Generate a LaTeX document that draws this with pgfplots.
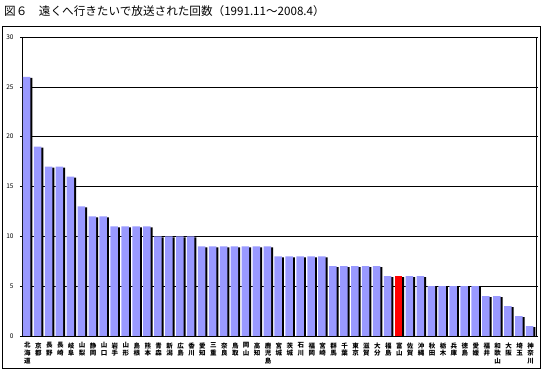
\documentclass[border=0pt]{standalone}
\usepackage{fontspec}
\setmainfont{Noto Sans CJK JP}
\usepackage{pgfplots}
\pgfplotsset{compat=1.18}
\definecolor{barblue}{HTML}{9999FF}
\begin{document}
\begin{tikzpicture}[x=1pt,y=1pt]
\useasboundingbox (-22,-36) rectangle (520,336);
\draw[line width=0.8pt] (-20,310) rectangle (518,-32);
\node[anchor=west, font=\fontsize{11.6}{12}\selectfont, inner sep=0] at (-18,325) {図６　遠くへ行きたいで放送された回数（1991.11～2008.4）};
\begin{axis}[
  at={(0,0)}, anchor=south west,
  scale only axis, width=514pt, height=299pt,
  xmin=0.5, xmax=47.5, ymin=0, ymax=30,
  ytick={0,5,...,30},
  ymajorgrids, grid style={black, line width=0.6pt},
  axis line style={black, line width=0.8pt},
  xtick={1,...,47},
  xticklabels={{北\\海\\道},{京\\都},{長\\野},{長\\崎},{岐\\阜},{山\\梨},{静\\岡},{山\\口},{岩\\手},{山\\形},{島\\根},{熊\\本},{青\\森},{新\\潟},{広\\島},{香\\川},{愛\\知},{三\\重},{奈\\良},{鳥\\取},{岡\\山},{高\\知},{鹿\\児\\島},{宮\\城},{茨\\城},{石\\川},{福\\岡},{宮\\崎},{群\\馬},{千\\葉},{東\\京},{滋\\賀},{大\\分},{福\\島},{富\\山},{佐\\賀},{沖\\縄},{秋\\田},{栃\\木},{兵\\庫},{徳\\島},{愛\\媛},{福\\井},{和\\歌\\山},{大\\阪},{埼\\玉},{神\\奈\\川}},
  xtick style={draw=none},
  xticklabel style={font=\fontsize{6.5}{7.8}\selectfont\bfseries, align=center, anchor=north, yshift=-1pt},
  yticklabel style={font=\fontsize{6.5}{7.5}\selectfont, xshift=-3pt},
  ytick style={black, line width=0.6pt},
  tick align=outside, major tick length=2pt,
  /pgf/number format/assume math mode=true,
]
\addplot[ybar, bar width=7.5pt, bar shift=1.2pt, fill=black, draw=none, yshift=-1pt] coordinates {
(1,26)(2,19)(3,17)(4,17)(5,16)(6,13)(7,12)(8,12)(9,11)(10,11)(11,11)(12,11)(13,10)(14,10)(15,10)(16,10)(17,9)(18,9)(19,9)(20,9)(21,9)(22,9)(23,9)(24,8)(25,8)(26,8)(27,8)(28,8)(29,7)(30,7)(31,7)(32,7)(33,7)(34,6)(35,6)(36,6)(37,6)(38,5)(39,5)(40,5)(41,5)(42,5)(43,4)(44,4)(45,3)(46,2)(47,1)};
\addplot[ybar, bar width=7.5pt, bar shift=-0.8pt, fill=barblue, draw=none] coordinates {
(1,26)(2,19)(3,17)(4,17)(5,16)(6,13)(7,12)(8,12)(9,11)(10,11)(11,11)(12,11)(13,10)(14,10)(15,10)(16,10)(17,9)(18,9)(19,9)(20,9)(21,9)(22,9)(23,9)(24,8)(25,8)(26,8)(27,8)(28,8)(29,7)(30,7)(31,7)(32,7)(33,7)(34,6)(36,6)(37,6)(38,5)(39,5)(40,5)(41,5)(42,5)(43,4)(44,4)(45,3)(46,2)(47,1)};
\addplot[ybar, bar width=7.5pt, bar shift=-0.8pt, fill=red, draw=none] coordinates {(35,6)};
\end{axis}
\end{tikzpicture}
\end{document}
